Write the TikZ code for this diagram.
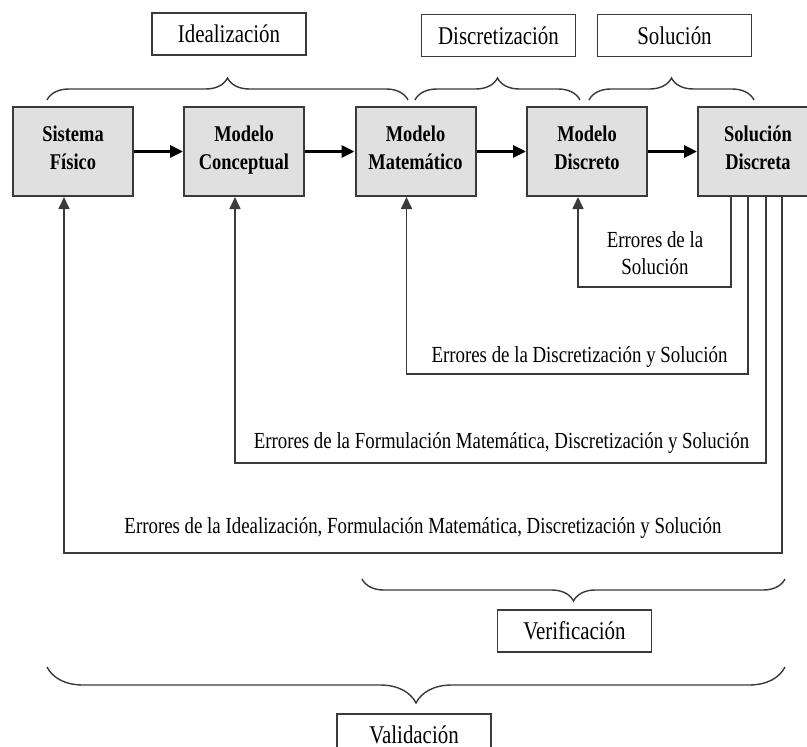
\documentclass[tikz,border=0pt]{standalone}
\usepackage{fontspec}
\setmainfont{Liberation Serif}[FakeStretch=0.82]
\usetikzlibrary{arrows.meta,decorations.pathreplacing}

\definecolor{cajagris}{HTML}{E0E0E0}
\definecolor{bordegris}{HTML}{3A3A3A}

\tikzset{
  caja/.style={draw=bordegris, line width=2pt, fill=cajagris, minimum width=120pt,
    minimum height=89pt, align=center, inner sep=0pt,
    font=\bfseries\fontsize{22.5}{28}\selectfont,
    execute at begin node=\strut, execute at end node=\rule[-3pt]{0pt}{3pt}},
  etiqueta/.style={draw=bordegris, line width=1.6pt, minimum width=154pt, minimum height=42pt,
    inner sep=0pt, font=\fontsize{25.5}{30}\selectfont},
  flecha/.style={line width=3pt, -{Triangle[length=13pt,width=12pt]}},
  retorno/.style={line width=1.7pt, draw=bordegris, -{Triangle[length=12pt,width=11pt]}},
  llave/.style={line width=1.4pt, draw=bordegris, decorate, decoration={brace, amplitude=#1}},
  llave/.default=22pt,
  error/.style={font=\fontsize{23}{27}\selectfont, align=center, inner sep=0pt},
}

\begin{document}
\begin{tikzpicture}[x=1pt, y=-1pt]
  % 画布大小
  \useasboundingbox (0,0) rectangle (807,747);
  % 箭头相对方框中心的偏移
  \def\offs{9pt}

  % 五个主方框
  \node[caja] (sf) at (73,151.5) {Sistema\\Físico};
  \node[caja] (mc) at (244,151.5) {Modelo\\Conceptual};
  \node[caja] (mm) at (415.5,151.5) {Modelo\\Matemático};
  \node[caja] (md) at (587,151.5) {Modelo\\Discreto};
  \node[caja] (sd) at (758,151.5) {Solución\\Discreta};

  % 方框之间的箭头
  \draw[flecha] (sf) -- (mc);
  \draw[flecha] (mc) -- (mm);
  \draw[flecha] (mm) -- (md);
  \draw[flecha] (md) -- (sd);

  % 上方的标签
  \node[etiqueta] (ideal) at (229,34) {Idealización};
  \node[etiqueta] (discr) at (498.5,35.5) {Discretización};
  \node[etiqueta] (solu) at (674.5,35.5) {Solución};

  % 上方的大括号
  \draw[llave] (47,100) -- (408,100);
  \draw[llave] (415,100) -- (580,100);
  \draw[llave] (589,100) -- (754,100);

  % 误差反馈线
  \draw[retorno] ([xshift=34pt]sd.south west) -- ++(0,90) -| ([xshift=-\offs]md.south);
  \draw[retorno] ([xshift=51pt]sd.south west) -- ++(0,177) -| ([xshift=-\offs]mm.south);
  \draw[retorno] ([xshift=69pt]sd.south west) -- ++(0,266) -| ([xshift=-\offs]mc.south);
  \draw[retorno] ([xshift=85pt]sd.south west) -- ++(0,356) -| ([xshift=-\offs]sf.south);

  % 反馈线上的文字
  \node[error] (e1) at (655,253.5) {Errores de la\\Solución};
  \node[error] (e2) at (579.5,357) {Errores de la Discretización y Solución};
  \node[error] (e3) at (501.5,443) {Errores de la Formulación Matemática, Discretización y Solución};
  \node[error] (e4) at (423,528) {Errores de la Idealización, Formulación Matemática, Discretización y Solución};

  % 下方的大括号
  \draw[llave] (785,579) -- (362,579);
  \draw[llave=36pt] (785,667) -- (47,667);

  % 下方的标签
  \node[etiqueta] (verif) at (574.5,631) {Verificación};
  \node[etiqueta] (valid) at (414,735) {Validación};
\end{tikzpicture}
\end{document}
